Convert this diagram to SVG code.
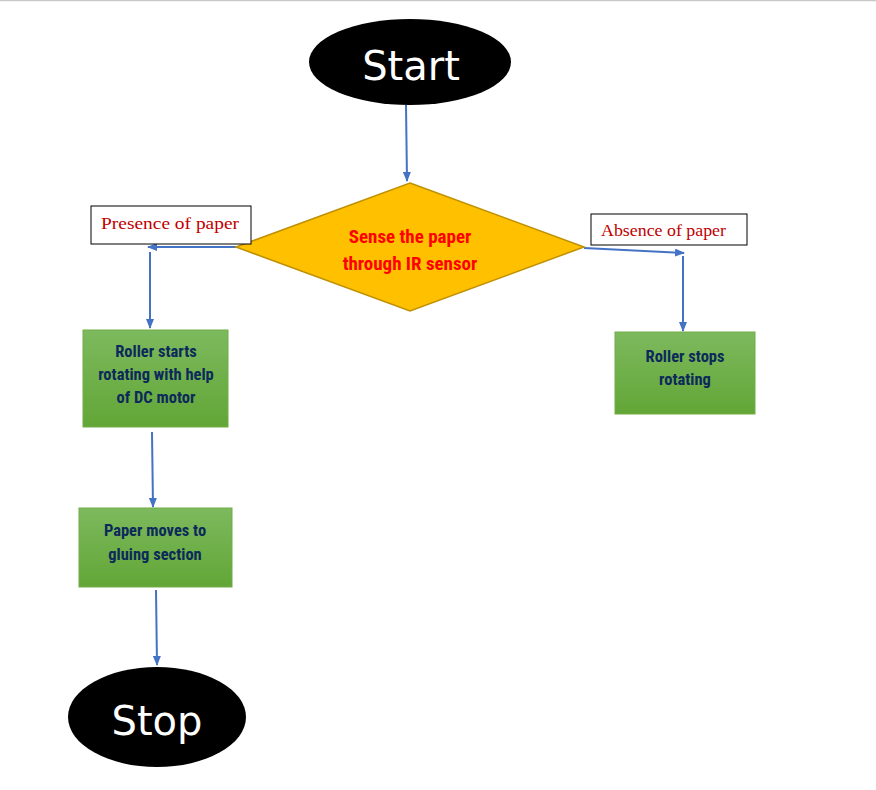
<svg xmlns="http://www.w3.org/2000/svg" width="876" height="790" viewBox="0 0 876 790">
<defs>
<linearGradient id="g" x1="0" y1="0" x2="0" y2="1">
<stop offset="0" stop-color="#7db95e"/>
<stop offset="1" stop-color="#62a636"/>
</linearGradient>
<marker id="ah" markerWidth="10" markerHeight="8" refX="9" refY="4" orient="auto" markerUnits="userSpaceOnUse">
<path d="M0,0 L10,4 L0,8 z" fill="#4472c4"/>
</marker>
<style>
.term{fill:#000}
.termt{fill:#fff;font-family:"Comic Sans MS","DejaVu Sans",sans-serif;font-size:40px;text-anchor:middle}
.box{fill:url(#g);stroke:#70ad47;stroke-width:1}
.boxt{fill:#0b2a5a;font-family:"Liberation Sans Narrow","Roboto Condensed","Liberation Sans",sans-serif;font-weight:bold;font-size:16.5px;text-anchor:middle}
.lbl{fill:#fff;stroke:#000;stroke-width:1}
.lblt{fill:#c00000;font-family:"Liberation Serif",serif;font-size:17px}
.con{stroke:#4472c4;stroke-width:2;fill:none}
.dec{fill:#ffc000;stroke:#bf9000;stroke-width:1.5}
.dect{fill:#ff0000;font-family:"Liberation Sans Narrow","Roboto Condensed","Liberation Sans",sans-serif;font-weight:bold;font-size:19px;text-anchor:middle}
</style>
</defs>
<rect width="876" height="790" fill="#fff"/>
<line x1="0" y1="0.5" x2="876" y2="0.5" stroke="#c8c8c8" stroke-width="1.5"/>
<g id="connectors">
<line class="con" x1="406" y1="105" x2="407" y2="181" marker-end="url(#ah)"/>
<line class="con" x1="236" y1="247" x2="148" y2="247" marker-end="url(#ah)"/>
<line class="con" x1="150" y1="252" x2="150" y2="328" marker-end="url(#ah)"/>
<line class="con" x1="152" y1="432" x2="153" y2="507" marker-end="url(#ah)"/>
<line class="con" x1="156" y1="590" x2="157" y2="665" marker-end="url(#ah)"/>
<line class="con" x1="584" y1="248" x2="684" y2="253" marker-end="url(#ah)"/>
<line class="con" x1="683" y1="256" x2="683" y2="331" marker-end="url(#ah)"/>
</g>
<g id="start">
<ellipse class="term" cx="410" cy="62" rx="101" ry="43"/>
<text class="termt" x="411" y="80" font-size="44">Start</text>
</g>
<g id="decision">
<polygon class="dec" points="410,183 584,247 410,311 236,247"/>
<text class="dect" x="410" y="243">Sense the paper</text>
<text class="dect" x="410" y="270">through IR sensor</text>
</g>
<g id="presence">
<rect class="lbl" x="91" y="206" width="160" height="38"/>
<text class="lblt" x="101" y="229" textLength="138" lengthAdjust="spacingAndGlyphs">Presence of paper</text>
</g>
<g id="absence">
<rect class="lbl" x="591" y="214" width="156" height="31"/>
<text class="lblt" x="601" y="236" textLength="125" lengthAdjust="spacingAndGlyphs">Absence of paper</text>
</g>
<g id="roller-starts">
<rect class="box" x="83" y="330" width="145" height="97"/>
<text class="boxt" x="156" y="357">Roller starts</text>
<text class="boxt" x="156" y="380">rotating with help</text>
<text class="boxt" x="156" y="403">of DC motor</text>
</g>
<g id="paper-moves">
<rect class="box" x="79" y="508" width="153" height="79"/>
<text class="boxt" x="155" y="536">Paper moves to</text>
<text class="boxt" x="155" y="560">gluing section</text>
</g>
<g id="roller-stops">
<rect class="box" x="615" y="332" width="140" height="82"/>
<text class="boxt" x="685" y="362">Roller stops</text>
<text class="boxt" x="685" y="385">rotating</text>
</g>
<g id="stop">
<ellipse class="term" cx="157" cy="717" rx="89" ry="50"/>
<text class="termt" x="157" y="735">Stop</text>
</g>
</svg>
